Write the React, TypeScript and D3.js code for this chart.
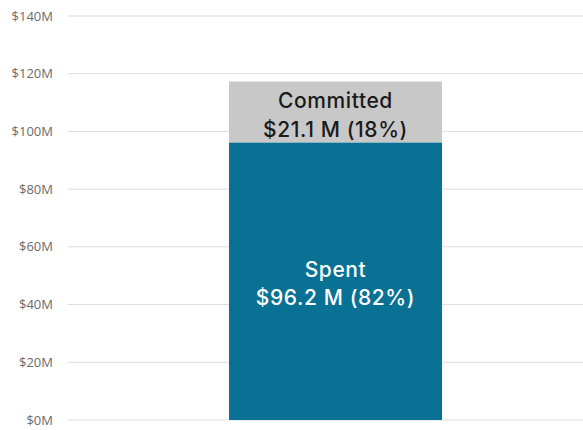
import React from "react";
import * as d3 from "d3";

const categories = ["Total"];
const seriesNames = ["Spent", "Committed"];
const spentValues = [96.2];
const committedValues = [21.1];
const percentLabels = ["82%", "18%"];
const tickValues = [0, 20, 40, 60, 80, 100, 120, 140];

const W = 583;
const H = 430;

export default function App() {
  const y = d3.scaleLinear().domain([0, 140]).range([420, 16]);
  const x = d3.scaleBand().domain(categories).range([60, 611]).paddingInner(0).paddingOuter(0.7934);
  const bxx = x(categories[0])!;
  const bw = x.bandwidth();
  const spent = spentValues[0];
  const comm = committedValues[0];
  const cx = bxx + bw / 2;
  const labelFont = "Inter, 'Open Sans', sans-serif";
  const ls = 0.6;
  return (
    <svg width={W} height={H} style={{ position: "absolute", left: 0, top: 0, display: "block" }}>
      <rect width={W} height={H} fill="#fff" />
      {tickValues.map((t) => (
        <g key={t}>
          <line x1={68} x2={W} y1={y(t)} y2={y(t)} stroke="#dcdcdc" strokeWidth={1} />
          <text x={53} y={y(t)} dy="0.35em" textAnchor="end" fontSize={13} fill="#6b6b6b" fontFamily="'Open Sans', sans-serif">
            {`$${t}M`}
          </text>
        </g>
      ))}
      <rect x={bxx} width={bw} y={y(spent)} height={y(0) - y(spent)} fill="#087194" />
      <rect x={bxx} width={bw} y={y(spent + comm)} height={y(spent) - y(spent + comm)} fill="#c8c8c8" />
      <text x={cx} y={y(spent + comm) + 26} textAnchor="middle" fontSize={21} fontWeight={500} letterSpacing={ls} fill="#1a1a1a" fontFamily={labelFont}>
        {seriesNames[1]}
      </text>
      <text x={cx} y={y(spent + comm) + 55} textAnchor="middle" fontSize={21} fontWeight={500} letterSpacing={ls} fill="#1a1a1a" fontFamily={labelFont}>
        {`$${comm.toFixed(1)} M (${percentLabels[1]})`}
      </text>
      <text x={cx} y={277} textAnchor="middle" fontSize={21} fontWeight={500} letterSpacing={ls} fill="#ffffff" fontFamily={labelFont}>
        {seriesNames[0]}
      </text>
      <text x={cx} y={305} textAnchor="middle" fontSize={21} fontWeight={500} letterSpacing={ls} fill="#ffffff" fontFamily={labelFont}>
        {`$${spent.toFixed(1)} M (${percentLabels[0]})`}
      </text>
    </svg>
  );
}
